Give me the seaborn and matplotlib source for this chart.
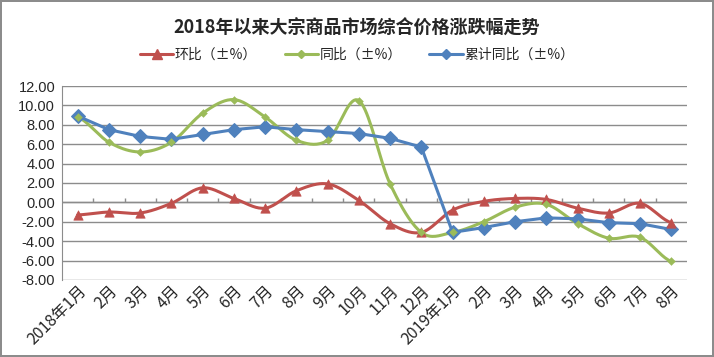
import numpy as np
import pandas as pd
import matplotlib
matplotlib.use('Agg')
import matplotlib.pyplot as plt
from matplotlib.lines import Line2D
import seaborn as sns

# Data
months = ['2018年1月', '2月', '3月', '4月', '5月', '6月', '7月', '8月', '9月', '10月',
          '11月', '12月', '2019年1月', '2月', '3月', '4月', '5月', '6月', '7月', '8月']
huanbi = [-1.3, -1.0, -1.1, -0.1, 1.5, 0.4, -0.6, 1.2, 1.9, 0.2,
          -2.2, -3.1, -0.8, 0.1, 0.4, 0.3, -0.6, -1.1, -0.1, -2.1]
tongbi = [8.8, 6.2, 5.2, 6.2, 9.2, 10.6, 8.8, 6.4, 6.4, 10.5,
          1.9, -3.1, -3.1, -2.0, -0.5, -0.2, -2.2, -3.7, -3.6, -6.1]
leiji = [8.9, 7.5, 6.8, 6.5, 7.0, 7.5, 7.8, 7.5, 7.3, 7.1,
         6.6, 5.7, -3.1, -2.6, -2.0, -1.6, -1.7, -2.1, -2.2, -2.8]

names = ['环比（±%）', '同比（±%）', '累计同比（±%）']
colors = ['#C0504D', '#9BBB59', '#4F81BD']

sns.set_style('white')
plt.rcParams['font.family'] = ['Noto Sans CJK SC', 'DejaVu Sans']


# Excel-style smoothed line (Catmull-Rom through the points)
def smooth(y, n=20):
    y = np.asarray(y, dtype=float)
    p = np.concatenate([[y[0]], y, [y[-1]]])
    xs, ys = [], []
    for i in range(len(y) - 1):
        p0, p1, p2, p3 = p[i], p[i + 1], p[i + 2], p[i + 3]
        t = np.linspace(0, 1, n, endpoint=False)
        c1 = p1 + (p2 - p0) / 6
        c2 = p2 - (p3 - p1) / 6
        yy = ((1 - t) ** 3 * p1 + 3 * (1 - t) ** 2 * t * c1
              + 3 * (1 - t) * t ** 2 * c2 + t ** 3 * p2)
        xs.append(i + t)
        ys.append(yy)
    xs.append([len(y) - 1])
    ys.append([y[-1]])
    return np.concatenate(xs), np.concatenate(ys)


fig = plt.figure(figsize=(7.14, 3.57), dpi=100)
fig.patch.set_edgecolor('#8C8C8C')
fig.patch.set_linewidth(1.5)
ax = fig.add_axes([0.087, 0.216, 0.875, 0.543])

x = np.arange(len(months))

# gridlines
ax.set_ylim(-8, 12)
ax.set_xlim(-0.5, len(months) - 0.5)
ax.set_yticks(np.arange(-8, 13, 2))
ax.yaxis.grid(True, color='#8C8C8C', lw=1)
ax.set_axisbelow(True)
ax.axhline(0, color='#8C8C8C', lw=1)
ax.vlines(np.arange(0.5, len(months) - 0.5), 0, 0.5, color='#8C8C8C', lw=1)

# 环比 smoothed
sx, sy = smooth(huanbi)
sns.lineplot(x=sx, y=sy, ax=ax, color=colors[0], lw=2.2, sort=False)
sns.scatterplot(x=x, y=huanbi, ax=ax, color=colors[0], marker='^', s=45,
                edgecolor=colors[0], zorder=3)

# 同比 smoothed
sx, sy = smooth(tongbi)
sns.lineplot(x=sx, y=sy, ax=ax, color=colors[1], lw=2.2, sort=False)
sns.scatterplot(x=x, y=tongbi, ax=ax, color=colors[1], marker='D', s=16,
                edgecolor=colors[1], zorder=3)

# 累计同比 straight
df = pd.DataFrame({'x': x, 'y': leiji})
sns.lineplot(data=df, x='x', y='y', ax=ax, color=colors[2], lw=2.2,
             marker='D', markersize=7, markeredgecolor=colors[2])

for s in ['top', 'right', 'bottom']:
    ax.spines[s].set_visible(False)
ax.spines['left'].set_color('#8C8C8C')

ax.set_yticks(np.arange(-8, 13, 2))
ax.set_yticklabels(['%.2f' % v for v in np.arange(-8, 13, 2)], fontsize=10.5,
                   family=['Liberation Sans'])
ax.set_xticks(x)
ax.set_xticklabels(months, rotation=45, ha='right', va='top',
                   rotation_mode='anchor', fontsize=11.5)
ax.tick_params(axis='y', length=0, pad=5)
ax.tick_params(axis='x', length=0, pad=2)
ax.set_xlabel('')
ax.set_ylabel('')

fig.text(0.5, 0.922, '2018年以来大宗商品市场综合价格涨跌幅走势', ha='center',
         va='center', fontsize=13, fontweight='bold')

handles = [
    Line2D([], [], color=colors[0], lw=2.2, marker='^', markersize=7),
    Line2D([], [], color=colors[1], lw=2.2, marker='D', markersize=4),
    Line2D([], [], color=colors[2], lw=2.2, marker='D', markersize=5),
]
fig.legend(handles, names, loc='center', bbox_to_anchor=(0.5, 0.846), ncol=3,
           frameon=False, fontsize=10, handlelength=2.4, columnspacing=2.0,
           handletextpad=0.1)

fig.savefig('out.png', dpi=100)
